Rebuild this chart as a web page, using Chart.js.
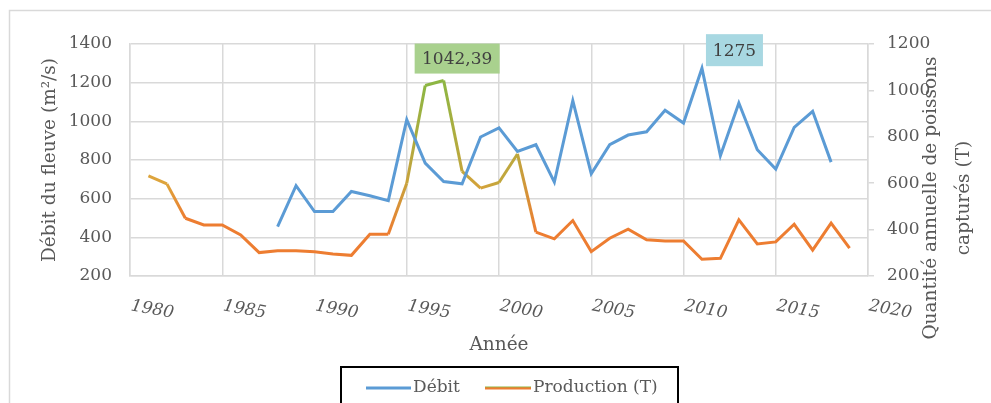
<!DOCTYPE html>
<html>
<head>
<meta charset="utf-8">
<script src="https://cdn.jsdelivr.net/npm/chart.js@4/dist/chart.umd.min.js"></script>
<style>
  html, body { margin: 0; padding: 0; background: #ffffff; }
  #wrap { width: 991px; height: 403px; position: relative; }
</style>
</head>
<body>
<div id="wrap"><canvas id="c" width="991" height="403"></canvas></div>
<script>
// ---- Data ----
const debitYears = [1988,1989,1990,1991,1992,1993,1994,1995,1996,1997,1998,1999,2000,2001,2002,2003,2004,2005,2006,2007,2008,2009,2010,2011,2012,2013,2014,2015,2016,2017,2018];
const debitValues = [455,667,533,533,637,615,590,1009,784,689,677,919,966,844,879,686,1107,729,879,929,946,1057,991,1275,822,1095,853,753,969,1052,789];
const prodYears = [1981,1982,1983,1984,1985,1986,1987,1988,1989,1990,1991,1992,1993,1994,1995,1996,1997,1998,1999,2000,2001,2002,2003,2004,2005,2006,2007,2008,2009,2010,2011,2012,2013,2014,2015,2016,2017,2018,2019];
const prodValues = [632,597,449,420,420,377,301,309,309,305,295,289,380,380,600,1021,1042.39,651,579,603,726,389,360,439,305,363,402,356,351,351,272,276,442,338,347,423,312,428,320];
const leftTicks = [200,400,600,800,1000,1200,1400];
const rightTicks = [200,400,600,800,1000,1200];
const xTicks = [1980,1985,1990,1995,2000,2005,2010,2015,2020];
const seriesNames = ['Débit', 'Production (T)'];
const leftTitle = 'Débit du fleuve (m²/s)';
const rightTitle = ['Quantité annuelle de poissons', 'capturés (T)'];
const xTitle = 'Année';
const dataLabels = [{series: 1, year: 1997, text: '1042,39'}, {series: 0, year: 2011, text: '1275'}];

// ---- Styles ----
const BLUE = '#5B9BD5', ORANGE = '#ED7D31', GREEN = '#8DB643', GOLD = '#DDA43C', OLIVE = '#C2A63C';
const prodColorMap = {1981: GOLD, 1982: GOLD, 1995: '#C8A23C', 1996: GREEN, 1997: GREEN, 1998: OLIVE, 1999: '#D6A23A', 2000: OLIVE, 2001: '#BDA83E'};
const FONT = "'DejaVu Serif', 'Liberation Serif', serif";
const TXT = '#595959';
const GRID = '#d9d9d9';
const TITLE_SIZE = 18.5;

const canvas = document.getElementById('c');
const ctx2d = canvas.getContext('2d');

function prodColor(i) { return prodColorMap[prodYears[i]] || ORANGE; }
const plainNum = (v) => String(v);

const decorPlugin = {
  id: 'decor',
  beforeDraw(chart) {
    const c = chart.ctx;
    c.save();
    c.fillStyle = '#ffffff';
    c.fillRect(0, 0, chart.width, chart.height);
    c.strokeStyle = GRID;
    c.lineWidth = 1.5;
    c.strokeRect(9.5, 10.5, 1100, 600);
    c.restore();
  },
  afterDraw(chart) {
    const c = chart.ctx;
    const xs = chart.scales.x;
    c.save();
    // x tick labels (italic, slanted)
    c.font = "italic 17px " + FONT;
    c.fillStyle = TXT;
    c.textAlign = 'left';
    c.textBaseline = 'middle';
    xTicks.forEach(v => {
      const px = xs.getPixelForValue(v);
      c.save();
      c.translate(px + 1, 306);
      c.rotate(10 * Math.PI / 180);
      c.fillText(String(v), 0, 0);
      c.restore();
    });
    // right axis title, reading bottom to top
    c.font = TITLE_SIZE + "px " + FONT;
    c.textAlign = 'center';
    c.textBaseline = 'middle';
    const rx = [931, 964];
    rightTitle.forEach((t, i) => {
      c.save();
      c.translate(rx[i], 198);
      c.rotate(-Math.PI / 2);
      c.fillText(t, 0, 0);
      c.restore();
    });
    // data labels
    const offs = [{l: -29, r: 56, t: -37, b: -7}, {l: 4, r: 61, t: -34, b: -2}];
    const fills = ['#A9D18E', '#A8D8E2'];
    dataLabels.forEach((d, k) => {
      const meta = chart.getDatasetMeta(d.series);
      const years = d.series === 0 ? debitYears : prodYears;
      const pt = meta.data[years.indexOf(d.year)];
      const o = offs[k];
      c.fillStyle = fills[k];
      c.fillRect(pt.x + o.l, pt.y + o.t, o.r - o.l, o.b - o.t);
      c.fillStyle = '#404040';
      c.font = "17px " + FONT;
      c.textAlign = 'center';
      c.textBaseline = 'middle';
      c.fillText(d.text, pt.x + (o.l + o.r) / 2, pt.y + (o.t + o.b) / 2 + 1);
    });
    // legend
    c.strokeStyle = '#000000';
    c.lineWidth = 2;
    c.strokeRect(341, 367, 337, 60);
    c.lineWidth = 3;
    c.lineCap = 'butt';
    c.strokeStyle = BLUE;
    c.beginPath(); c.moveTo(366, 388); c.lineTo(411, 388); c.stroke();
    const lg = c.createLinearGradient(0, 386.5, 0, 389.5);
    lg.addColorStop(0, GREEN); lg.addColorStop(0.5, ORANGE); lg.addColorStop(1, ORANGE);
    c.strokeStyle = lg;
    c.beginPath(); c.moveTo(485, 388); c.lineTo(531, 388); c.stroke();
    c.fillStyle = TXT;
    c.font = "17px " + FONT;
    c.textAlign = 'left';
    c.textBaseline = 'middle';
    c.fillText(seriesNames[0], 413, 388);
    c.fillText(seriesNames[1], 533, 388);
    c.restore();
  }
};

const chart = new Chart(canvas, {
  type: 'line',
  data: {
    datasets: [
      {
        label: seriesNames[0],
        data: debitYears.map((y, i) => ({x: y, y: debitValues[i]})),
        borderColor: BLUE,
        borderWidth: 3,
        pointRadius: 0,
        tension: 0,
        yAxisID: 'y'
      },
      {
        label: seriesNames[1],
        data: prodYears.map((y, i) => ({x: y, y: prodValues[i]})),
        borderColor: ORANGE,
        borderWidth: 3,
        pointRadius: 0,
        tension: 0,
        yAxisID: 'y1',
        segment: {
          borderColor: (sc) => {
            const a = prodColor(sc.p0DataIndex), b = prodColor(sc.p1DataIndex);
            if (a === b) return a;
            const g = ctx2d.createLinearGradient(sc.p0.x, 0, sc.p1.x, 0);
            g.addColorStop(0, a);
            g.addColorStop(1, b);
            return g;
          }
        }
      }
    ]
  },
  options: {
    responsive: false,
    animation: false,
    events: [],
    layout: { padding: { left: 0, right: 0, top: 44, bottom: 0 } },
    plugins: { legend: { display: false }, tooltip: { enabled: false } },
    scales: {
      x: {
        type: 'linear',
        min: 1980,
        max: 2020,
        afterBuildTicks: (s) => { s.ticks = xTicks.map(v => ({value: v})); },
        ticks: { display: false },
        grid: { color: GRID, lineWidth: 1.5, drawTicks: false },
        border: { color: GRID, width: 1.5 },
        title: { display: true, text: xTitle, color: TXT, font: { family: FONT, size: TITLE_SIZE }, padding: { top: 0, bottom: 47 } },
        afterFit: (s) => { s.height = 127; }
      },
      y: {
        position: 'left',
        min: 200,
        max: 1400,
        afterBuildTicks: (s) => { s.ticks = leftTicks.map(v => ({value: v})); },
        ticks: { color: TXT, font: { family: FONT, size: 17 }, padding: 18, callback: plainNum },
        grid: { color: GRID, lineWidth: 1.5, drawTicks: false },
        border: { color: GRID, width: 1.5 },
        title: { display: true, text: leftTitle, color: TXT, font: { family: FONT, size: TITLE_SIZE }, padding: { top: 39, bottom: 0 } },
        afterFit: (s) => { s.width = 130; }
      },
      y1: {
        position: 'right',
        min: 200,
        max: 1200,
        afterBuildTicks: (s) => { s.ticks = rightTicks.map(v => ({value: v})); },
        ticks: { color: TXT, font: { family: FONT, size: 17 }, padding: 13, callback: plainNum },
        grid: { color: GRID, lineWidth: 1.5, drawOnChartArea: false, drawTicks: true, tickLength: 6 },
        border: { color: GRID, width: 1.5 },
        afterFit: (s) => { s.width = 123; }
      }
    }
  },
  plugins: [decorPlugin]
});
</script>
</body>
</html>
